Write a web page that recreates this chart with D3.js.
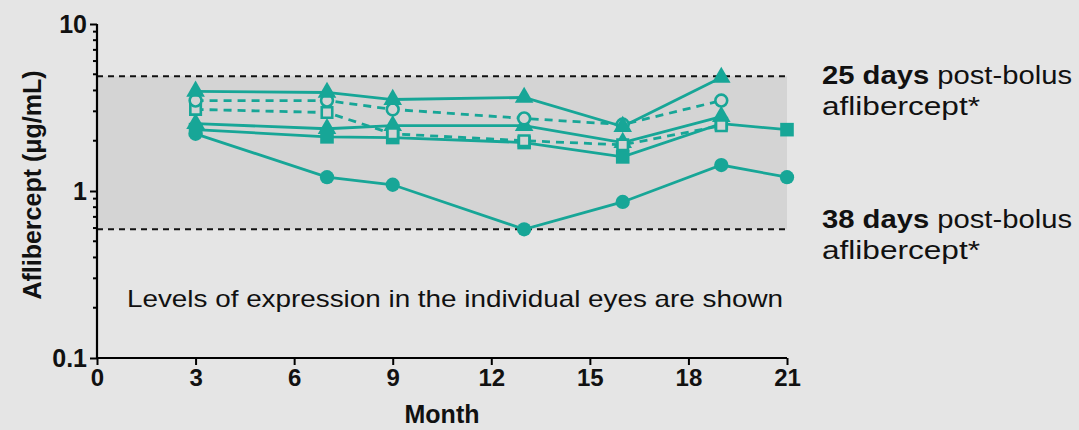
<!DOCTYPE html>
<html>
<head>
<meta charset="utf-8">
<script src="https://cdn.jsdelivr.net/npm/d3@7"></script>
<style>
  html, body { margin: 0; padding: 0; background: #e5e5e5; }
  svg { display: block; font-family: "Liberation Sans", Arial, sans-serif; }
</style>
</head>
<body>
<svg id="chart" width="1079" height="430"></svg>
<script>
// Months of sampling
const monthsShort = [3, 7, 9, 13, 16, 19];
const monthsLong = [3, 7, 9, 13, 16, 19, 21];

// Aflibercept concentration per eye (µg/mL)
const eyeTriangleA = [3.95, 3.89, 3.53, 3.63, 2.43, 4.79];
const eyeOpenCircle = [3.48, 3.48, 3.08, 2.72, 2.50, 3.48];
const eyeOpenSquare = [3.08, 2.95, 2.20, 2.00, 1.89, 2.46];
const eyeTriangleB = [2.53, 2.36, 2.46, 2.46, 1.95, 2.79];
const eyeSquare = [2.33, 2.11, 2.09, 1.95, 1.60, 2.53, 2.33];
const eyeCircle = [2.20, 1.21, 1.09, 0.59, 0.86, 1.43, 1.21];

// Reference levels after a bolus injection
const level25Days = 4.86;
const level38Days = 0.59;

const xTicks = [0, 3, 6, 9, 12, 15, 18, 21];
const yTicks = [0.1, 1, 10];

const series = [
  { months: monthsLong, values: eyeCircle, shape: "circle", open: false, dashed: false },
  { months: monthsLong, values: eyeSquare, shape: "square", open: false, dashed: false },
  { months: monthsShort, values: eyeTriangleB, shape: "triangle", open: false, dashed: false },
  { months: monthsShort, values: eyeOpenSquare, shape: "square", open: true, dashed: true },
  { months: monthsShort, values: eyeOpenCircle, shape: "circle", open: true, dashed: true },
  { months: monthsShort, values: eyeTriangleA, shape: "triangle", open: false, dashed: false }
];

const teal = "#17a697";
const svg = d3.select("#chart");

const x = d3.scaleLinear().domain([0, 21]).range([97, 787]);
const y = d3.scaleLog().domain([0.1, 10]).range([358, 24]);

// Shaded window between the two reference levels
svg.append("rect")
  .attr("x", x(0)).attr("y", y(level25Days))
  .attr("width", x(21) - x(0)).attr("height", y(level38Days) - y(level25Days))
  .attr("fill", "#d4d4d4");

[level25Days, level38Days].forEach(v => {
  svg.append("line")
    .attr("x1", x(0)).attr("x2", x(21) + 3)
    .attr("y1", y(v)).attr("y2", y(v))
    .attr("stroke", "#111").attr("stroke-width", 2)
    .attr("stroke-dasharray", "6,5");
});

// Axes
const xAxis = d3.axisBottom(x).tickValues(xTicks).tickSize(7).tickPadding(4);
const gx = svg.append("g").attr("transform", `translate(0,${y(0.1)})`).call(xAxis);
gx.select(".domain").attr("stroke", "#000").attr("stroke-width", 2.2)
  .attr("d", `M${x(0)},0H${x(21)}`);
gx.selectAll(".tick line").attr("stroke", "#000").attr("stroke-width", 2);
gx.selectAll(".tick text")
  .attr("font-size", 24).attr("font-weight", "bold").attr("fill", "#111");

const minorVals = [];
[0.1, 1].forEach(d => { for (let k = 2; k <= 9; k++) minorVals.push(d * k); });

const gy = svg.append("g").attr("transform", `translate(${x(0)},0)`);
gy.append("line").attr("x1", 0).attr("x2", 0).attr("y1", y(0.1)).attr("y2", y(10))
  .attr("stroke", "#000").attr("stroke-width", 2.2);
gy.selectAll(".minor").data(minorVals).enter().append("line")
  .attr("x1", -4).attr("x2", 0).attr("y1", d => y(d)).attr("y2", d => y(d))
  .attr("stroke", "#000").attr("stroke-width", 2);
const yAxis = d3.axisLeft(y).tickValues(yTicks).tickSize(7).tickPadding(3)
  .tickFormat(d => d3.format("~g")(d));
const gyAxis = gy.append("g").call(yAxis);
gyAxis.select(".domain").remove();
gyAxis.selectAll(".tick line").attr("stroke", "#000").attr("stroke-width", 2);
gyAxis.selectAll(".tick text")
  .attr("font-size", 25).attr("font-weight", "bold").attr("fill", "#111");

// Axis titles
svg.append("text").attr("x", x(10.5)).attr("y", 423)
  .attr("text-anchor", "middle").attr("font-size", 25).attr("font-weight", "bold")
  .attr("fill", "#111").text("Month");
svg.append("text").attr("transform", `translate(41,${y(1) - 6}) rotate(-90)`)
  .attr("text-anchor", "middle").attr("font-size", 25).attr("font-weight", "bold")
  .attr("fill", "#111").text("Aflibercept (μg/mL)");

// Lines per eye
const line = d3.line().x(d => x(d[0])).y(d => y(d[1]));
series.forEach(s => {
  const pts = s.months.map((m, i) => [m, s.values[i]]);
  svg.append("path").datum(pts)
    .attr("d", line).attr("fill", "none")
    .attr("stroke", teal).attr("stroke-width", 2.8)
    .attr("stroke-dasharray", s.dashed ? "8,6" : null);
});

// Markers per eye
const symbolType = { circle: d3.symbolCircle, square: d3.symbolSquare, triangle: d3.symbolTriangle };
const symbolSize = { circle: 160, square: 185, triangle: 150 };
series.forEach(s => {
  const pts = s.months.map((m, i) => [m, s.values[i]]);
  svg.append("g").selectAll("path").data(pts).enter().append("path")
    .attr("transform", d => `translate(${x(d[0])},${y(d[1])})`)
    .attr("d", d3.symbol().type(symbolType[s.shape]).size(s.open ? 110 : symbolSize[s.shape]))
    .attr("fill", s.open ? "#d4d4d4" : teal)
    .attr("stroke", teal).attr("stroke-width", s.open ? 2.6 : 0);
});

// Notes
svg.append("text").attr("x", 127).attr("y", 307)
  .attr("font-size", 24).attr("fill", "#111")
  .attr("textLength", 656).attr("lengthAdjust", "spacingAndGlyphs")
  .text("Levels of expression in the individual eyes are shown");

function note(top, days) {
  const t1 = svg.append("text").attr("x", 822).attr("y", top).attr("font-size", 25).attr("fill", "#111")
    .attr("textLength", 250).attr("lengthAdjust", "spacingAndGlyphs");
  t1.append("tspan").attr("font-weight", "bold").text(days);
  t1.append("tspan").text(" post-bolus");
  svg.append("text").attr("x", 822).attr("y", top + 31).attr("font-size", 25).attr("fill", "#111")
    .attr("textLength", 158).attr("lengthAdjust", "spacingAndGlyphs")
    .text("aflibercept*");
}
note(84, "25 days");
note(228, "38 days");
</script>
</body>
</html>
